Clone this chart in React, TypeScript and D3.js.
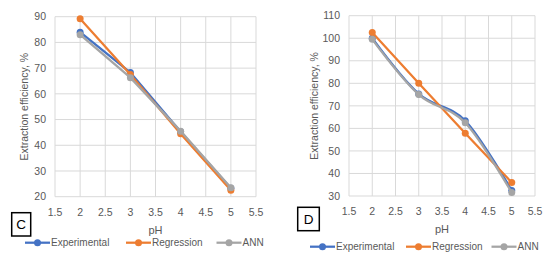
import React, { useEffect, useRef } from "react";
import * as d3 from "d3";

// pH values shared by both panels
const phValues = [2, 3, 4, 5];
const xTicks = [1.5, 2, 2.5, 3, 3.5, 4, 4.5, 5, 5.5];

// panel C
const cExperimental = [84, 68.3, 45.3, 23.3];
const cRegression = [89.2, 67.5, 44.5, 22.5];
const cAnn = [83, 66.3, 45.5, 23.5];
const cYTicks = [20, 30, 40, 50, 60, 70, 80, 90];

// panel D
const dExperimental = [100, 75.3, 63.4, 32.4];
const dRegression = [102.5, 80, 57.8, 36];
const dAnn = [99.5, 75, 62.5, 31.5];
const dYTicks = [30, 40, 50, 60, 70, 80, 90, 100, 110];

const seriesNames = ["Experimental", "Regression", "ANN"];
const colors = ["#4472C4", "#ED7D31", "#A5A5A5"];
const textColor = "#595959";
const font = "'Liberation Sans', Arial, sans-serif";

type Panel = {
  letter: string;
  left: number;
  right: number;
  top: number;
  bottom: number;
  yTicks: number[];
  series: number[][];
  smooth: boolean[];
  titleX: number;
  box: [number, number, number, number];
  legendY: number;
  legendX: number[];
};

const panels: Panel[] = [
  {
    letter: "C",
    left: 55,
    right: 256,
    top: 16.7,
    bottom: 196.7,
    yTicks: cYTicks,
    series: [cExperimental, cRegression, cAnn],
    smooth: [false, false, false],
    titleX: 24,
    box: [11.7, 212.7, 19, 23.3],
    legendY: 242.7,
    legendX: [25, 126, 216.5],
  },
  {
    letter: "D",
    left: 349,
    right: 535,
    top: 15.7,
    bottom: 196,
    yTicks: dYTicks,
    series: [dExperimental, dRegression, dAnn],
    smooth: [true, false, true],
    titleX: 314,
    box: [297.7, 207.3, 21.6, 23.4],
    legendY: 246.7,
    legendX: [310, 406, 491.5],
  },
];

const App = () => {
  const ref = useRef<SVGSVGElement>(null);

  useEffect(() => {
    const svg = d3.select(ref.current);
    svg.selectAll("*").remove();

    panels.forEach((p) => {
      const x = d3.scaleLinear().domain([1.5, 5.5]).range([p.left, p.right]);
      const y = d3
        .scaleLinear()
        .domain([p.yTicks[0], p.yTicks[p.yTicks.length - 1]])
        .range([p.bottom, p.top]);
      const g = svg.append("g");

      // gridlines
      g.selectAll(".hgrid")
        .data(p.yTicks)
        .enter()
        .append("line")
        .attr("x1", p.left)
        .attr("x2", p.right)
        .attr("y1", (d) => y(d))
        .attr("y2", (d) => y(d))
        .attr("stroke", "#D9D9D9")
        .attr("stroke-width", 1);
      g.selectAll(".vgrid")
        .data(xTicks)
        .enter()
        .append("line")
        .attr("x1", (d) => x(d))
        .attr("x2", (d) => x(d))
        .attr("y1", p.top)
        .attr("y2", p.bottom)
        .attr("stroke", "#D9D9D9")
        .attr("stroke-width", 1);

      // tick labels
      g.selectAll(".ylab")
        .data(p.yTicks)
        .enter()
        .append("text")
        .attr("x", p.left - 9)
        .attr("y", (d) => y(d))
        .attr("dy", "0.35em")
        .attr("text-anchor", "end")
        .style("font-family", font)
        .style("font-size", "10.5px")
        .attr("fill", textColor)
        .text((d) => d);
      g.selectAll(".xlab")
        .data(xTicks)
        .enter()
        .append("text")
        .attr("x", (d) => x(d))
        .attr("y", p.bottom + 19)
        .attr("text-anchor", "middle")
        .style("font-family", font)
        .style("font-size", "10.5px")
        .attr("fill", textColor)
        .text((d) => d);

      // axis titles
      g.append("text")
        .attr("transform", `translate(${p.titleX},${(p.top + p.bottom) / 2}) rotate(-90)`)
        .attr("dy", "0.35em")
        .attr("text-anchor", "middle")
        .style("font-family", font)
        .style("font-size", "10.5px")
        .attr("fill", textColor)
        .text("Extraction efficiency, %");
      g.append("text")
        .attr("x", (p.left + p.right) / 2)
        .attr("y", p.bottom + 37)
        .attr("text-anchor", "middle")
        .style("font-family", font)
        .style("font-size", "11px")
        .attr("fill", textColor)
        .text("pH");

      // series
      p.series.forEach((vals, i) => {
        const pts = phValues.map((ph, k) => [ph, vals[k]] as [number, number]);
        const line = d3
          .line<[number, number]>()
          .x((d) => x(d[0]))
          .y((d) => y(d[1]))
          .curve(p.smooth[i] ? d3.curveCardinal.tension(0) : d3.curveLinear);
        g.append("path")
          .datum(pts)
          .attr("d", line)
          .attr("fill", "none")
          .attr("stroke", colors[i])
          .attr("stroke-width", 2.25);
        g.selectAll(".pt" + i)
          .data(pts)
          .enter()
          .append("circle")
          .attr("cx", (d) => x(d[0]))
          .attr("cy", (d) => y(d[1]))
          .attr("r", 3.5)
          .attr("fill", colors[i]);
      });

      // letter box
      const [bx, by, bw, bh] = p.box;
      g.append("rect")
        .attr("x", bx)
        .attr("y", by)
        .attr("width", bw)
        .attr("height", bh)
        .attr("fill", "white")
        .attr("stroke", "black")
        .attr("stroke-width", 1.5);
      g.append("text")
        .attr("x", bx + bw / 2)
        .attr("y", by + bh / 2)
        .attr("dy", "0.36em")
        .attr("text-anchor", "middle")
        .style("font-family", font)
        .style("font-size", "13.5px")
        .attr("fill", "black")
        .text(p.letter);

      // legend
      seriesNames.forEach((name, i) => {
        const lx = p.legendX[i];
        g.append("line")
          .attr("x1", lx)
          .attr("x2", lx + 25)
          .attr("y1", p.legendY)
          .attr("y2", p.legendY)
          .attr("stroke", colors[i])
          .attr("stroke-width", 2.25);
        g.append("circle")
          .attr("cx", lx + 12.5)
          .attr("cy", p.legendY)
          .attr("r", 3.5)
          .attr("fill", colors[i]);
        g.append("text")
          .attr("x", lx + 26)
          .attr("y", p.legendY)
          .attr("dy", "0.35em")
          .style("font-family", font)
          .style("font-size", "10px")
          .attr("fill", textColor)
          .text(name);
      });
    });
  }, []);

  return (
    <svg
      ref={ref}
      width={550}
      height={263}
      style={{ position: "absolute", left: 0, top: 0, background: "white" }}
    />
  );
};

export default App;
